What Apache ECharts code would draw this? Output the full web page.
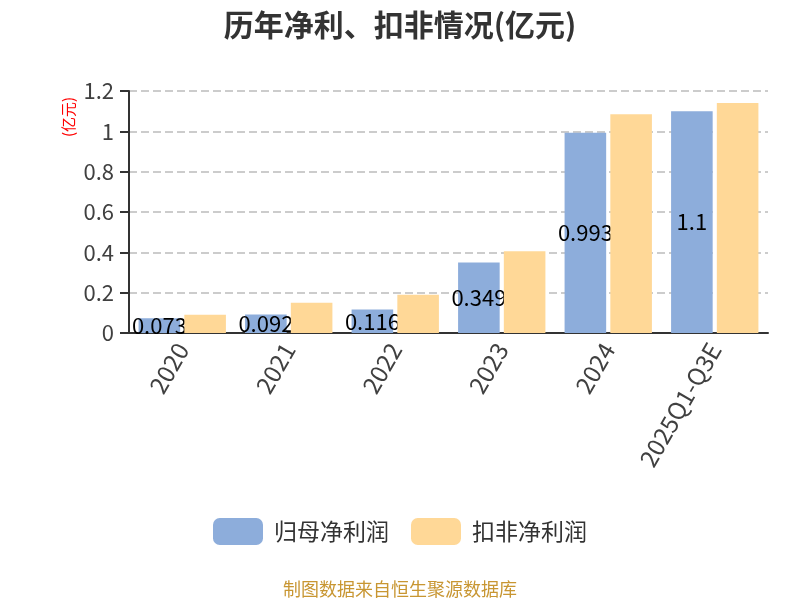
<!DOCTYPE html>
<html>
<head>
<meta charset="utf-8">
<script src="https://cdn.jsdelivr.net/npm/echarts@6/dist/echarts.min.js"></script>
<style>html,body{margin:0;padding:0;background:#fff;}#c{width:800px;height:600px;}</style>
</head>
<body>
<div id="c"></div>
<script>
const categories = ['2020', '2021', '2022', '2023', '2024', '2025Q1-Q3E'];
const netProfit = [0.073, 0.092, 0.116, 0.349, 0.993, 1.1];
const deductedProfit = [0.09, 0.15, 0.19, 0.405, 1.085, 1.14];
const seriesNames = ['归母净利润', '扣非净利润'];
const yTicks = { min: 0, max: 1.2, interval: 0.2 };

const font = '"Noto Sans CJK SC", "Noto Sans", sans-serif';
const chart = echarts.init(document.getElementById('c'));
chart.setOption({
  animation: false,
  textStyle: { fontFamily: font },
  title: {
    text: '历年净利、扣非情况(亿元)',
    left: 'center', top: 5,
    textStyle: { fontSize: 30, fontWeight: 'bold', color: '#333', fontFamily: font }
  },
  grid: { left: 129, right: 32, top: 91, bottom: 267 },
  legend: {
    bottom: 50, left: 'center',
    icon: 'roundRect', itemWidth: 50, itemHeight: 27, itemGap: 22,
    textStyle: { fontSize: 23, color: '#333', padding: [0, 0, 0, 6] },
    data: seriesNames
  },
  graphic: [
    { type: 'text', left: 'center', top: 580, style: { text: '制图数据来自恒生聚源数据库', fontSize: 18, fill: '#c89632', fontFamily: font } },
    { type: 'text', x: 61, y: 137, rotation: Math.PI / 2, style: { text: '(亿元)', fontSize: 15, fill: '#ff0000', fontFamily: font } }
  ],
  xAxis: {
    type: 'category', data: categories,
    axisLine: { lineStyle: { color: '#333', width: 2 } },
    axisTick: { length: 9, lineStyle: { color: '#333', width: 2 } },
    axisLabel: { rotate: 60, fontSize: 24, color: '#404040', margin: 12 }
  },
  yAxis: {
    type: 'value', min: yTicks.min, max: yTicks.max, interval: yTicks.interval,
    axisLine: { show: true, lineStyle: { color: '#333', width: 2 } },
    axisTick: { show: true, length: 9, lineStyle: { color: '#333', width: 2 } },
    axisLabel: { fontSize: 22, color: '#404040', margin: 15 },
    splitLine: { lineStyle: { type: 'dashed', color: '#ccc', width: 2 } }
  },
  series: [
    {
      name: seriesNames[0], type: 'bar', data: netProfit, z: 2,
      barGap: '10%', barCategoryGap: '18%',
      itemStyle: { color: '#8daddb' },
      label: { show: true, position: 'inside', fontSize: 22, color: '#000' }
    },
    {
      name: seriesNames[1], type: 'bar', data: deductedProfit, z: 5,
      itemStyle: { color: '#ffd897' }
    }
  ]
});
</script>
</body>
</html>
